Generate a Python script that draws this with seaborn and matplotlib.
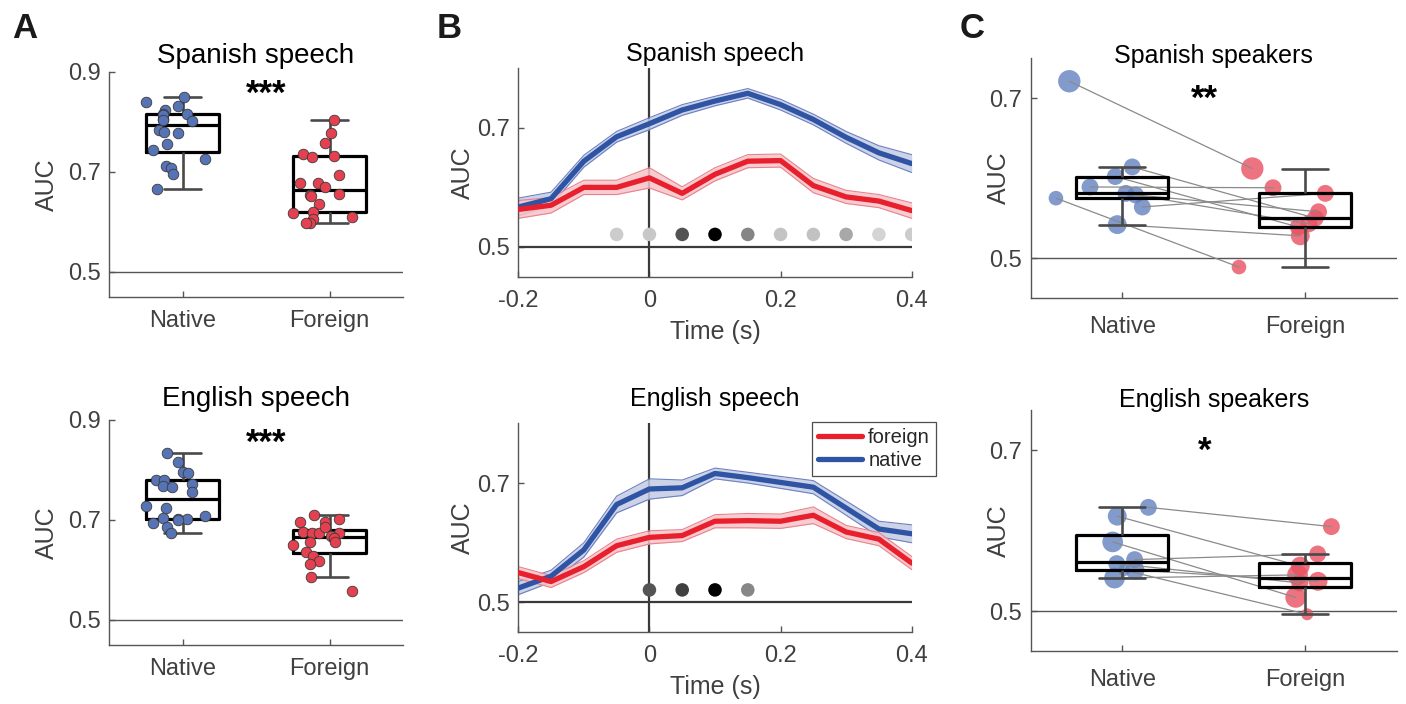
import numpy as np
import pandas as pd
import matplotlib
matplotlib.use("Agg")
import matplotlib.pyplot as plt
from matplotlib.lines import Line2D
import seaborn as sns

# ---------------------------------------------------------------- data
groups = ["Native", "Foreign"]

# A: subject-level decoding AUC (Spanish speech)
spa_speech_native = [0.840, 0.851, 0.833, 0.824, 0.816, 0.816, 0.806, 0.803, 0.784, 0.781,
                     0.778, 0.757, 0.745, 0.727, 0.713, 0.709, 0.697, 0.667, 0.815, 0.805]
spa_speech_foreign = [0.804, 0.779, 0.759, 0.736, 0.731, 0.732, 0.695, 0.678, 0.678, 0.670,
                      0.657, 0.655, 0.652, 0.636, 0.618, 0.620, 0.610, 0.606, 0.599, 0.598]
# A: subject-level decoding AUC (English speech)
eng_speech_native = [0.835, 0.817, 0.797, 0.794, 0.781, 0.781, 0.773, 0.768, 0.767, 0.756,
                     0.729, 0.725, 0.704, 0.703, 0.702, 0.708, 0.695, 0.687, 0.675, 0.700]
eng_speech_foreign = [0.711, 0.697, 0.697, 0.702, 0.677, 0.674, 0.675, 0.687, 0.675, 0.669,
                      0.664, 0.656, 0.656, 0.650, 0.636, 0.629, 0.619, 0.613, 0.587, 0.559]

# B: time-resolved AUC, mean and SEM
time_s = [-0.20, -0.15, -0.10, -0.05, 0.00, 0.05, 0.10, 0.15, 0.20, 0.25, 0.30, 0.35, 0.40]
spa_native_mean = [0.567, 0.581, 0.644, 0.685, 0.707, 0.730, 0.745, 0.758, 0.739, 0.714, 0.684, 0.658, 0.640]
spa_native_sem = [0.015, 0.011, 0.010, 0.009, 0.010, 0.009, 0.008, 0.008, 0.009, 0.009, 0.010, 0.012, 0.015]
spa_foreign_mean = [0.563, 0.570, 0.600, 0.600, 0.616, 0.590, 0.622, 0.644, 0.645, 0.603, 0.584, 0.577, 0.561]
spa_foreign_sem = [0.015, 0.013, 0.012, 0.012, 0.017, 0.011, 0.011, 0.011, 0.011, 0.012, 0.011, 0.011, 0.013]
eng_native_mean = [0.524, 0.544, 0.588, 0.664, 0.690, 0.692, 0.716, 0.709, 0.701, 0.693, 0.658, 0.623, 0.615]
eng_native_sem = [0.011, 0.010, 0.012, 0.014, 0.017, 0.013, 0.009, 0.009, 0.010, 0.011, 0.012, 0.013, 0.015]
eng_foreign_mean = [0.550, 0.535, 0.560, 0.595, 0.609, 0.612, 0.636, 0.637, 0.636, 0.646, 0.618, 0.606, 0.566]
eng_foreign_sem = [0.010, 0.010, 0.010, 0.011, 0.011, 0.010, 0.011, 0.012, 0.012, 0.014, 0.011, 0.011, 0.011]

# B: time bins with a native > foreign difference (shade: 0 = strongest)
spa_sig_time = [-0.05, 0.00, 0.05, 0.10, 0.15, 0.20, 0.25, 0.30, 0.35, 0.40]
spa_sig_shade = [0.80, 0.78, 0.32, 0.00, 0.52, 0.77, 0.76, 0.66, 0.83, 0.80]
eng_sig_time = [0.00, 0.05, 0.10, 0.15]
eng_sig_shade = [0.33, 0.25, 0.00, 0.53]

# C: per-participant AUC (paired), with electrode counts
spa_spk_native = [0.721, 0.575, 0.589, 0.564, 0.542, 0.614, 0.602, 0.581, 0.579]
spa_spk_foreign = [0.612, 0.489, 0.588, 0.581, 0.528, 0.550, 0.539, 0.543, 0.558]
spa_spk_nelec = [7, 3, 4, 4, 5, 4, 4, 4, 4]
eng_spk_native = [0.629, 0.618, 0.586, 0.564, 0.551, 0.559, 0.551, 0.541]
eng_spk_foreign = [0.605, 0.556, 0.517, 0.571, 0.537, 0.535, 0.496, 0.545]
eng_spk_nelec = [4, 5, 6, 4, 5, 4, 2, 6]

stars = {"A_spa": "***", "A_eng": "***", "C_spa": "**", "C_eng": "*"}

# ---------------------------------------------------------------- layout
# horizontal scatter of each point around its group centre
spa_speech_native_jit = [-0.247, 0.007, -0.034, -0.116, -0.136, 0.032, -0.136, 0.066, -0.163, -0.124,
                         -0.034, -0.104, -0.199, 0.150, -0.109, -0.075, -0.068, -0.175, -0.13, -0.13]
spa_speech_foreign_jit = [0.032, 0.009, -0.032, -0.177, -0.116, 0.032, 0.068, -0.202, -0.077, -0.032,
                          0.068, -0.134, -0.124, -0.070, -0.247, -0.109, 0.152, -0.109, -0.134, -0.163]
eng_speech_native_jit = [-0.104, -0.032, 0.005, 0.039, -0.177, -0.124, 0.066, -0.134, -0.070, 0.066,
                         -0.250, -0.114, -0.136, -0.032, 0.029, 0.152, -0.199, -0.107, -0.075, -0.03]
eng_speech_foreign_jit = [-0.107, -0.202, -0.032, 0.068, -0.179, -0.116, -0.073, -0.032, 0.068, 0.007,
                          0.029, 0.039, -0.134, -0.247, -0.158, -0.113, -0.073, -0.134, -0.124, 0.152]
spa_spk_jit = [-0.289, -0.362, -0.176, 0.110, -0.027, 0.055, -0.038, 0.020, 0.073]
eng_spk_jit = [0.143, -0.027, -0.052, 0.068, 0.070, -0.030, 0.011, -0.042]

# ---------------------------------------------------------------- style
sns.set_theme(style="ticks")
plt.rcParams["font.family"] = ["Liberation Sans", "DejaVu Sans"]
plt.rcParams["axes.unicode_minus"] = False

W, H = 1406, 704
fig = plt.figure(figsize=(W / 100, H / 100), dpi=100)

SPINE = "#555555"
TICKLBL = "#404040"
BLUE_PT, RED_PT = "#5673b5", "#e5404f"
BLUE_C, RED_C = "#6482c0", "#ea5060"
BLUE_LN, RED_LN = "#2f54a3", "#e8202e"


def add_axes(left, top, right, bottom):
    return fig.add_axes([left / W, 1 - bottom / H, (right - left) / W, (bottom - top) / H])


def style_axes(ax, xpad=9.5, tick_size=17):
    sns.despine(ax=ax)
    for side in ("left", "bottom"):
        ax.spines[side].set_color(SPINE)
        ax.spines[side].set_linewidth(1.0)
    ax.tick_params(direction="in", length=4, width=1, color=SPINE,
                   labelcolor=TICKLBL, labelsize=tick_size, pad=6)
    ax.tick_params(axis="x", pad=xpad)


def set_auc_label(ax, xpos):
    ax.set_ylabel("AUC", fontsize=18, color=TICKLBL)
    ax.yaxis.set_label_coords(xpos, 0.5)


def title_pad(axes_top_px, baseline_px):
    return (axes_top_px - baseline_px) * 0.72


def box_panel(ax, nat, nat_jit, forn, forn_jit, star, title, pad, star_xy,
              ylim, yticks, sizes=None, paired=False):
    df = pd.DataFrame({"group": ["Native"] * len(nat) + ["Foreign"] * len(forn),
                       "auc": list(nat) + list(forn)})
    sns.boxplot(data=df, x="group", y="auc", order=groups, width=0.5, fill=False,
                color="black", linewidth=2.3, showfliers=False, whis=1.5, ax=ax,
                boxprops=dict(color="black", linewidth=2.3),
                medianprops=dict(color="black", linewidth=2.3),
                whiskerprops=dict(color="#4a4a4a", linewidth=1.9),
                capprops=dict(color="#4a4a4a", linewidth=1.9),
                zorder=4 if paired else 2)
    xn = 0 + np.asarray(nat_jit)
    xf = 1 + np.asarray(forn_jit)
    if paired:
        s = 37 * np.asarray(sizes)
        sns.scatterplot(x=xn, y=nat, size=s, sizes=(s.min(), s.max()), color=BLUE_C,
                        alpha=0.8, edgecolor="none", legend=False, ax=ax, zorder=2)
        sns.scatterplot(x=xf, y=forn, size=s, sizes=(s.min(), s.max()), color=RED_C,
                        alpha=0.8, edgecolor="none", legend=False, ax=ax, zorder=2)
        for a, b, ya, yb in zip(xn, xf, nat, forn):
            ax.plot([a, b], [ya, yb], color="#8a8a8a", lw=0.9, zorder=3)
    else:
        sns.scatterplot(x=xn, y=nat, color=BLUE_PT, s=58, edgecolor="#3a3a3a",
                        linewidth=0.6, legend=False, ax=ax, zorder=5)
        sns.scatterplot(x=xf, y=forn, color=RED_PT, s=58, edgecolor="#3a3a3a",
                        linewidth=0.6, legend=False, ax=ax, zorder=5)
    ax.axhline(0.5, color="#555555", lw=1.0, zorder=1)
    ax.set_xlim(-0.5, 1.5)
    ax.set_ylim(*ylim)
    ax.set_yticks(yticks)
    ax.set_yticklabels([f"{v:.1f}" for v in yticks])
    ax.set_xticks([0, 1])
    ax.set_xticklabels(groups)
    ax.set_xlabel("")
    ax.text(star_xy[0], star_xy[1], star, ha="center", va="center",
            fontsize=25, fontweight="bold", color="black")
    ax.set_title(title, fontsize=20 if not paired else 18, color="black", y=1.0, pad=pad)


def time_panel(ax, nm, ns, fm, fs, sig_t, sig_shade, title, pad):
    ax.axhline(0.5, color="#3a3a3a", lw=1.6, zorder=1)
    ax.axvline(0.0, color="#3a3a3a", lw=1.6, zorder=1)
    handles = {}
    for mean, sem, col, band, edge, name in (
            (nm, ns, BLUE_LN, "#c3cce6", "#6d80c0", "native"),
            (fm, fs, RED_LN, "#f6c4c9", "#e9838b", "foreign")):
        mean = np.asarray(mean)
        sem = np.asarray(sem)
        ax.fill_between(time_s, mean - sem, mean + sem, color=band, alpha=0.85,
                        lw=0, zorder=2)
        ax.plot(time_s, mean - sem, color=edge, lw=0.8, zorder=2)
        ax.plot(time_s, mean + sem, color=edge, lw=0.8, zorder=2)
        sns.lineplot(x=time_s, y=mean, color=col, linewidth=3.8, ax=ax, zorder=3)
        handles[name] = Line2D([], [], color=col, lw=3.8)
    sns.scatterplot(x=sig_t, y=[0.521] * len(sig_t), hue=list(range(len(sig_t))),
                    palette=[str(s) for s in sig_shade], s=95, edgecolor="none",
                    legend=False, ax=ax, zorder=4)
    ax.set_xlim(-0.2, 0.4)
    ax.set_ylim(0.45, 0.8)
    ax.set_xticks([-0.2, 0, 0.2, 0.4])
    ax.set_xticklabels(["-0.2", "0", "0.2", "0.4"])
    ax.set_yticks([0.5, 0.7])
    ax.set_yticklabels(["0.5", "0.7"])
    ax.set_xlabel("Time (s)", fontsize=18, color=TICKLBL, labelpad=5.5)
    ax.set_title(title, fontsize=18, color="black", y=1.0, pad=pad)
    return handles


# ---------------------------------------------------------------- A
axA1 = add_axes(109, 72, 403, 297)
box_panel(axA1, spa_speech_native, spa_speech_native_jit, spa_speech_foreign,
          spa_speech_foreign_jit, stars["A_spa"], "Spanish speech",
          title_pad(72, 63), (0.57, 0.856), (0.45, 0.9), [0.5, 0.7, 0.9])
style_axes(axA1, xpad=9.5)
set_auc_label(axA1, -0.17)

axA2 = add_axes(109, 420, 403, 645)
box_panel(axA2, eng_speech_native, eng_speech_native_jit, eng_speech_foreign,
          eng_speech_foreign_jit, stars["A_eng"], "English speech",
          title_pad(420, 406), (0.57, 0.854), (0.45, 0.9), [0.5, 0.7, 0.9])
style_axes(axA2, xpad=9.5)
set_auc_label(axA2, -0.17)

# ---------------------------------------------------------------- B
axB1 = add_axes(518.3, 68.3, 911.7, 276.7)
time_panel(axB1, spa_native_mean, spa_native_sem, spa_foreign_mean, spa_foreign_sem,
           spa_sig_time, spa_sig_shade, "Spanish speech", title_pad(68.3, 61))
style_axes(axB1, xpad=9.5)
set_auc_label(axB1, -0.11)

axB2 = add_axes(518.3, 423.3, 911.7, 632.3)
h = time_panel(axB2, eng_native_mean, eng_native_sem, eng_foreign_mean, eng_foreign_sem,
               eng_sig_time, eng_sig_shade, "English speech", title_pad(423.3, 406))
style_axes(axB2, xpad=9.5)
set_auc_label(axB2, -0.11)
leg = axB2.legend([h["foreign"], h["native"]], ["foreign", "native"],
                  loc="upper right", bbox_to_anchor=(936 / W, 1 - 422 / H),
                  bbox_transform=fig.transFigure, borderaxespad=0, fontsize=14.5,
                  handlelength=2.2, handletextpad=0.3, borderpad=0.3,
                  labelspacing=0.2, frameon=True, fancybox=False)
leg.get_frame().set_edgecolor("#222222")
leg.get_frame().set_linewidth(0.9)

# ---------------------------------------------------------------- C
axC1 = add_axes(1030.7, 58, 1396.7, 298.3)
box_panel(axC1, spa_spk_native, spa_spk_jit, spa_spk_foreign, spa_spk_jit,
          stars["C_spa"], "Spanish speakers", title_pad(58, 63), (0.45, 0.6985),
          (0.45, 0.75), [0.5, 0.7], sizes=spa_spk_nelec, paired=True)
style_axes(axC1, xpad=13)
set_auc_label(axC1, -0.054)

axC2 = add_axes(1030.7, 410, 1396.7, 651.3)
box_panel(axC2, eng_spk_native, eng_spk_jit, eng_spk_foreign, eng_spk_jit,
          stars["C_eng"], "English speakers", title_pad(410, 407), (0.45, 0.698),
          (0.45, 0.75), [0.5, 0.7], sizes=eng_spk_nelec, paired=True)
style_axes(axC2, xpad=13)
set_auc_label(axC2, -0.054)

# ---------------------------------------------------------------- panel letters
for letter, x in (("A", 12), ("B", 437), ("C", 960)):
    fig.text(x / W, 1 - 38 / H, letter, fontsize=25, fontweight="bold",
             color="#1a1a1a", ha="left", va="baseline")

fig.savefig("out.png", dpi=100)
